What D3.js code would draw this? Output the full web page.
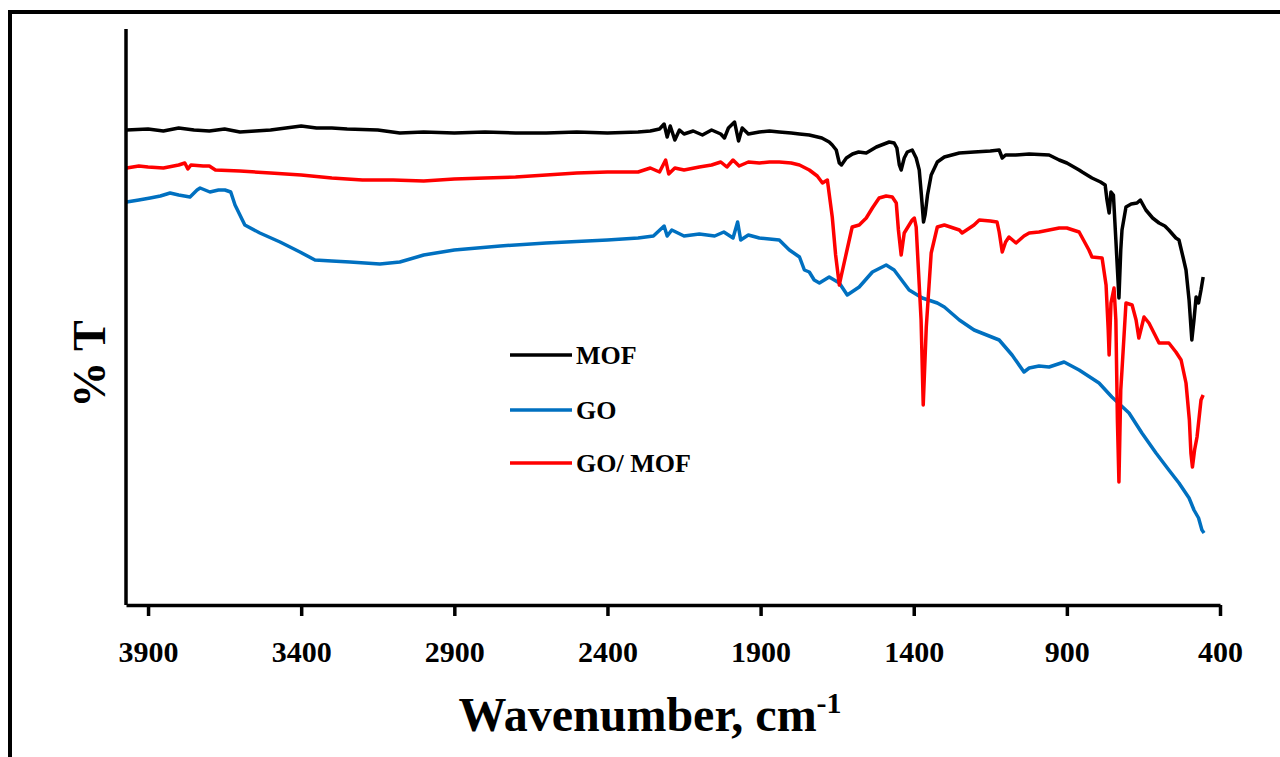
<!DOCTYPE html>
<html>
<head>
<meta charset="utf-8">
<script src="https://cdn.jsdelivr.net/npm/d3@7"></script>
<style>
  html, body { margin: 0; padding: 0; background: #fff; }
  svg { display: block; }
  text { font-family: "Liberation Serif", "Times New Roman", serif; font-weight: bold; fill: #000; }
</style>
</head>
<body>
<svg id="chart" width="1280" height="757"></svg>
<script>
const X_TICKS = [3900, 3400, 2900, 2400, 1900, 1400, 900, 400];
const SERIES_NAMES = ["MOF", "GO", "GO/ MOF"];
const SERIES_COLORS = ["#000000", "#0070c0", "#ff0000"];

// [wavenumber cm-1, transmittance (arbitrary units)]
const mofValues = [
  [3970, 475], [3900, 476], [3850, 474], [3800, 477], [3750, 475], [3700, 474], [3650, 476],
  [3600, 473], [3550, 474], [3500, 475], [3450, 477], [3400, 479], [3350, 477], [3300, 477],
  [3250, 476], [3150, 475], [3078, 472], [3000, 473], [2900, 472], [2800, 473], [2700, 472],
  [2600, 472], [2500, 473], [2400, 472], [2300, 473], [2260, 474], [2230, 476], [2215, 481],
  [2205, 468], [2195, 479], [2180, 465], [2165, 475], [2150, 471], [2120, 474], [2090, 470],
  [2060, 475], [2030, 471], [2018, 467], [2005, 477], [1985, 483], [1972, 464], [1960, 477],
  [1940, 471], [1904, 473], [1871, 474], [1839, 473], [1800, 472], [1773, 471], [1741, 470],
  [1700, 467], [1676, 463], [1666, 460], [1653, 455], [1643, 442], [1636, 440], [1620, 447],
  [1600, 451], [1580, 453], [1555, 452], [1522, 458], [1480, 463], [1464, 462], [1455, 457],
  [1447, 440], [1441, 435], [1431, 447], [1421, 453], [1405, 455], [1392, 447], [1382, 435],
  [1375, 410], [1368, 383], [1363, 390], [1355, 410], [1343, 430], [1323, 443], [1300, 448],
  [1251, 452], [1203, 453], [1150, 454], [1121, 455], [1111, 447], [1100, 450], [1066, 450],
  [1023, 451], [958, 450], [925, 445], [900, 442], [860, 435], [850, 433], [818, 427],
  [790, 423], [775, 420], [769, 405], [762, 392], [756, 413], [748, 410], [740, 365],
  [730, 307], [724, 355], [720, 375], [707, 398], [690, 401], [671, 402], [660, 405],
  [642, 395], [620, 387], [599, 382], [580, 379], [567, 375], [544, 367], [534, 365],
  [520, 347], [511, 335], [501, 305], [492, 265], [485, 285], [478, 308], [470, 302],
  [462, 315], [455, 328]
];

const goValues = [
  [3970, 403], [3930, 405], [3893, 407], [3860, 409], [3828, 412], [3800, 410], [3763, 408],
  [3740, 415], [3730, 417], [3698, 413], [3670, 415], [3649, 415], [3630, 413], [3616, 400],
  [3584, 380], [3535, 372], [3469, 363], [3404, 353], [3355, 345], [3300, 344], [3241, 343],
  [3143, 341], [3078, 343], [3000, 350], [2900, 355], [2750, 359], [2600, 362], [2400, 365],
  [2300, 367], [2250, 369], [2215, 379], [2205, 369], [2190, 375], [2150, 369], [2100, 371],
  [2050, 369], [2020, 373], [1990, 367], [1975, 383], [1965, 365], [1940, 370], [1904, 367],
  [1871, 366], [1839, 365], [1806, 355], [1773, 348], [1757, 335], [1741, 333], [1725, 325],
  [1708, 322], [1676, 328], [1643, 322], [1617, 310], [1578, 318], [1535, 333], [1490, 340],
  [1464, 335], [1415, 315], [1372, 307], [1323, 302], [1300, 298], [1251, 285], [1203, 275],
  [1121, 265], [1079, 250], [1040, 233], [1023, 237], [991, 239], [958, 238], [909, 243],
  [860, 235], [795, 222], [753, 208], [697, 192], [655, 172], [609, 152], [567, 135],
  [534, 122], [501, 107], [485, 95], [470, 87], [459, 75], [452, 72]
];

const goMofValues = [
  [3970, 437], [3930, 439], [3900, 438], [3850, 437], [3800, 440], [3780, 442], [3770, 436],
  [3760, 440], [3720, 439], [3700, 439], [3680, 435], [3600, 434], [3500, 432], [3400, 430],
  [3300, 427], [3200, 425], [3100, 425], [3000, 424], [2900, 426], [2800, 427], [2700, 428],
  [2600, 430], [2500, 432], [2400, 433], [2300, 433], [2260, 437], [2230, 433], [2210, 445],
  [2200, 431], [2180, 437], [2150, 435], [2100, 438], [2060, 440], [2030, 443], [2010, 438],
  [1990, 445], [1970, 439], [1940, 443], [1904, 442], [1871, 443], [1839, 443], [1800, 442],
  [1773, 440], [1741, 435], [1715, 429], [1698, 422], [1682, 425], [1666, 388], [1655, 350],
  [1643, 320], [1636, 330], [1620, 352], [1601, 378], [1578, 380], [1555, 387], [1535, 397],
  [1513, 407], [1490, 409], [1470, 408], [1457, 402], [1450, 375], [1441, 350], [1431, 372],
  [1421, 377], [1405, 385], [1398, 387], [1392, 378], [1376, 285], [1369, 200], [1359, 278],
  [1343, 352], [1323, 378], [1300, 380], [1251, 375], [1242, 372], [1203, 380], [1186, 385],
  [1150, 384], [1128, 383], [1121, 373], [1111, 353], [1100, 363], [1089, 368], [1066, 362],
  [1040, 369], [1023, 372], [991, 373], [958, 375], [925, 377], [900, 377], [860, 373],
  [828, 355], [818, 348], [785, 347], [772, 320], [765, 275], [762, 250], [756, 302],
  [746, 317], [740, 285], [735, 185], [730, 123], [724, 215], [720, 235], [707, 302],
  [687, 300], [674, 285], [665, 267], [648, 288], [632, 282], [599, 262], [567, 262],
  [544, 253], [527, 245], [511, 222], [500, 185], [495, 152], [490, 138], [483, 155],
  [475, 168], [462, 205], [455, 210]
];

const seriesValues = [mofValues, goValues, goMofValues];

const svg = d3.select("#chart");
const x = d3.scaleLinear().domain([3972, 400]).range([126, 1220]);
const y = d3.scaleLinear().domain([0, 576]).range([605, 29]);

// outer frame
svg.append("rect")
  .attr("x", 10).attr("y", 12)
  .attr("width", 1290).attr("height", 770)
  .attr("fill", "none").attr("stroke", "#000").attr("stroke-width", 4);

const line = d3.line().x((d) => x(d[0])).y((d) => y(d[1]));

// draw in order: blue, black, red on top
[1, 0, 2].forEach((i) => {
  svg.append("path")
    .datum(seriesValues[i])
    .attr("d", line)
    .attr("fill", "none")
    .attr("stroke", SERIES_COLORS[i])
    .attr("stroke-width", 3.5)
    .attr("stroke-linejoin", "round");
});

// y axis (no ticks)
svg.append("line")
  .attr("x1", x(3972)).attr("x2", x(3972))
  .attr("y1", y(576)).attr("y2", y(0))
  .attr("stroke", "#000").attr("stroke-width", 3.5);

const xAxis = svg.append("g")
  .attr("transform", `translate(0,${y(0)})`)
  .call(d3.axisBottom(x).tickValues(X_TICKS).tickSize(11).tickSizeOuter(0).tickFormat(d3.format("d")));
xAxis.select(".domain").attr("stroke", "#000").attr("stroke-width", 3.5);
xAxis.selectAll(".tick line").attr("stroke", "#000").attr("stroke-width", 3.5);
xAxis.selectAll(".tick text")
  .attr("y", 57).attr("dy", 0)
  .style("font-family", "'Liberation Serif', serif")
  .style("font-weight", "bold")
  .style("font-size", "30px");

// axis titles
const xTitle = svg.append("text")
  .attr("x", 650).attr("y", 731)
  .attr("text-anchor", "middle")
  .style("font-size", "48px");
xTitle.append("tspan").text("Wavenumber, cm");
xTitle.append("tspan").attr("dy", -18).style("font-size", "30px").text("-1");

svg.append("text")
  .attr("transform", "translate(105,364) rotate(-90)")
  .attr("text-anchor", "middle")
  .style("font-size", "46px")
  .text("% T");

// legend
const legendY = [355, 410, 463];
SERIES_NAMES.forEach((name, i) => {
  svg.append("line")
    .attr("x1", 510).attr("x2", 572)
    .attr("y1", legendY[i]).attr("y2", legendY[i])
    .attr("stroke", SERIES_COLORS[i]).attr("stroke-width", 3.5);
  svg.append("text")
    .attr("x", 576).attr("y", legendY[i] + 9)
    .style("font-size", "26px")
    .text(name);
});
</script>
</body>
</html>
